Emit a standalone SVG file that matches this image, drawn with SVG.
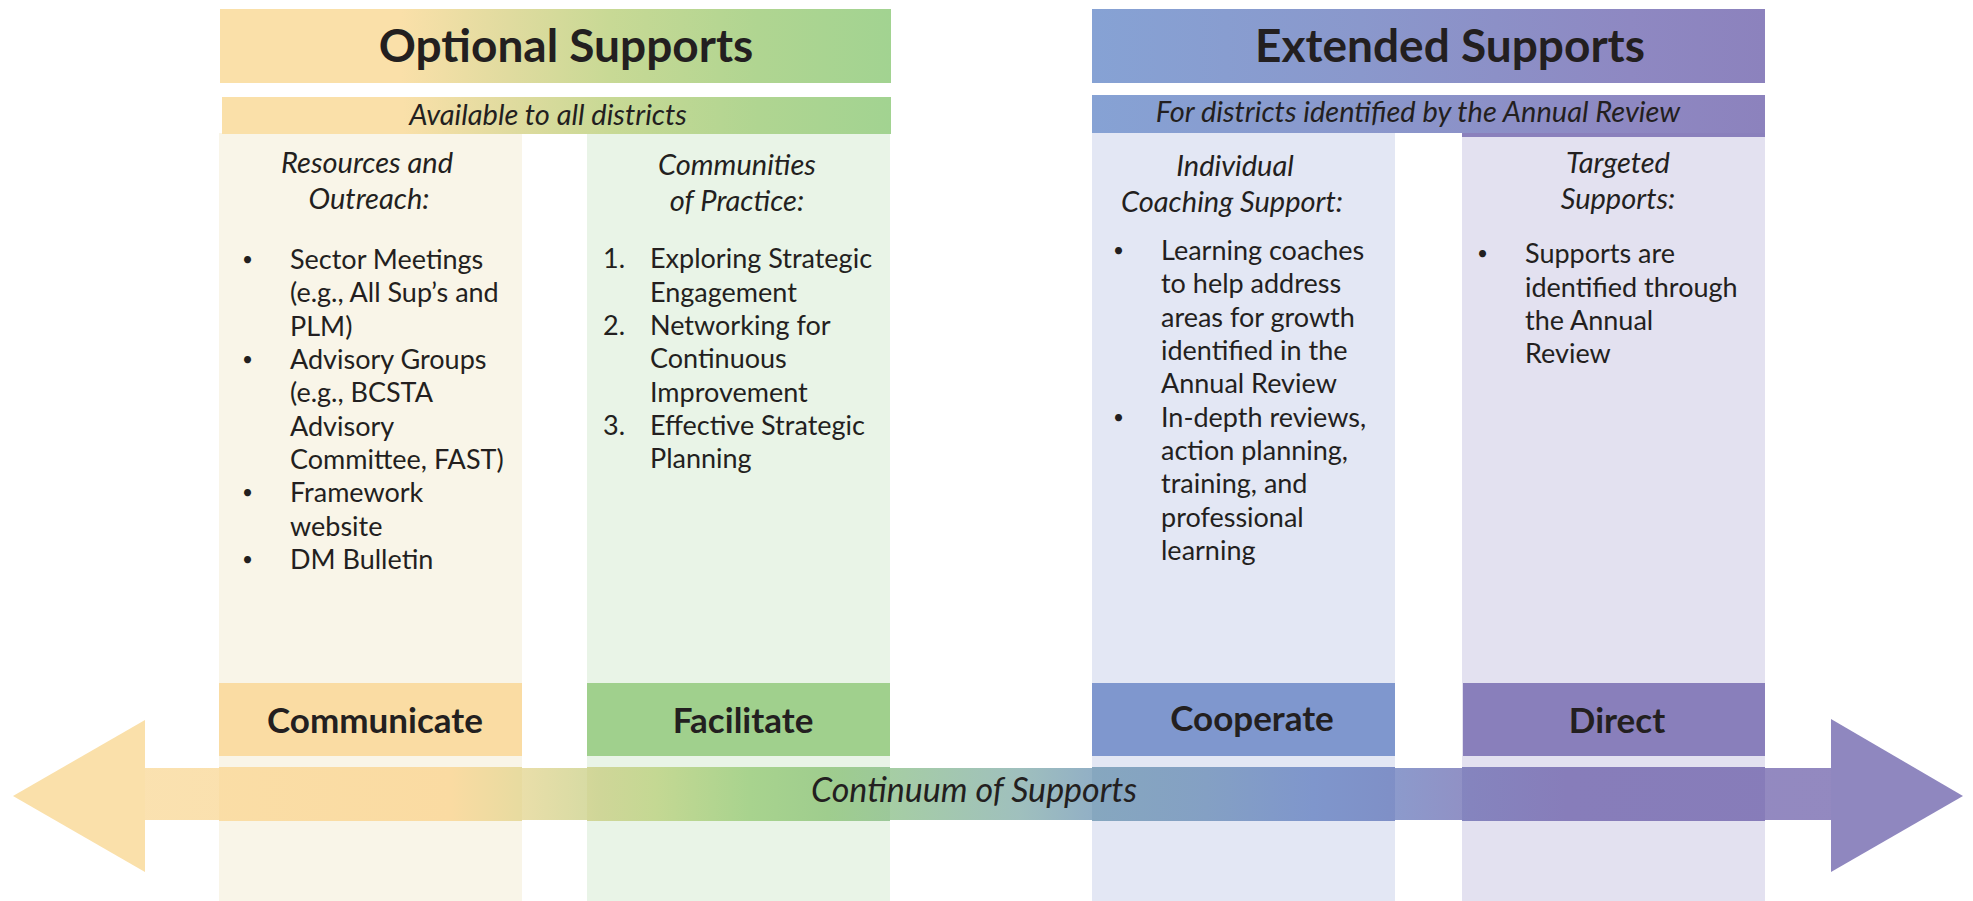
<svg xmlns="http://www.w3.org/2000/svg" width="1973" height="901" viewBox="0 0 1973 901">
<style>
text{font-family:Lato,"Open Sans","Liberation Sans",sans-serif;fill:#231f20}
.title{font-size:46px;font-weight:700;text-anchor:middle}
.sub{font-size:29px;font-style:italic;text-anchor:middle}
.head{font-size:29px;font-style:italic;text-anchor:middle}
.body{font-size:27px}
.bul{font-size:19px}
.lbl{font-size:35px;font-weight:700;text-anchor:middle}
.cont{font-size:34px;font-style:italic;text-anchor:middle}
</style>
<defs>
<linearGradient id="gOpt" x1="0" y1="0" x2="1" y2="0">
<stop offset="0" stop-color="#fae0a9"/>
<stop offset="0.27" stop-color="#fae0a9"/>
<stop offset="0.43" stop-color="#e0db9f"/>
<stop offset="0.58" stop-color="#c8d995"/>
<stop offset="0.8" stop-color="#b0d591"/>
<stop offset="1" stop-color="#a2d391"/>
</linearGradient>
<linearGradient id="gExt" x1="0" y1="0" x2="1" y2="0">
<stop offset="0" stop-color="#86a2d4"/>
<stop offset="0.4" stop-color="#8a98cc"/>
<stop offset="0.8" stop-color="#8e88c2"/>
<stop offset="1" stop-color="#8c82bd"/>
</linearGradient>
<linearGradient id="gShaft" gradientUnits="userSpaceOnUse" x1="145" y1="0" x2="1831" y2="0">
<stop offset="0" stop-color="#fadea7"/>
<stop offset="0.181" stop-color="#fadba2"/>
<stop offset="0.222" stop-color="#e8dba0"/>
<stop offset="0.270" stop-color="#cfd698"/>
<stop offset="0.303" stop-color="#c4d893"/>
<stop offset="0.359" stop-color="#a8d38e"/>
<stop offset="0.405" stop-color="#9fcd8e"/>
<stop offset="0.442" stop-color="#9cc89a"/>
<stop offset="0.518" stop-color="#95b9b6"/>
<stop offset="0.562" stop-color="#86a7bf"/>
<stop offset="0.630" stop-color="#84a0c4"/>
<stop offset="0.693" stop-color="#7f96cc"/>
<stop offset="0.738" stop-color="#7f90c7"/>
<stop offset="0.786" stop-color="#8584be"/>
<stop offset="0.843" stop-color="#877dba"/>
<stop offset="1" stop-color="#877cb9"/>
</linearGradient>
</defs>
<rect width="1973" height="901" fill="#ffffff"/>

<g id="col-resources">
<rect x="219" y="133" width="303" height="768" fill="#f9f5e8"/>
<text class="head" x="367" y="173">Resources and</text>
<text class="head" x="369" y="209">Outreach:</text>
<text class="bul"><tspan x="242" y="266">•</tspan><tspan x="242" y="366">•</tspan><tspan x="242" y="499">•</tspan><tspan x="242" y="566">•</tspan></text>
<text class="body"><tspan x="290" y="269">Sector Meetings</tspan><tspan x="290" y="302">(e.g., All Sup’s and</tspan><tspan x="290" y="336">PLM)</tspan><tspan x="290" y="369">Advisory Groups</tspan><tspan x="290" y="402">(e.g., BCSTA</tspan><tspan x="290" y="436">Advisory</tspan><tspan x="290" y="469">Committee, FAST)</tspan><tspan x="290" y="502">Framework</tspan><tspan x="290" y="536">website</tspan><tspan x="290" y="569">DM Bulletin</tspan></text>
</g>

<g id="col-communities">
<rect x="587" y="133" width="303" height="768" fill="#e9f4e7"/>
<text class="head" x="737" y="175">Communities</text>
<text class="head" x="737" y="211">of Practice:</text>
<text class="body"><tspan x="603" y="268">1.</tspan><tspan x="603" y="335">2.</tspan><tspan x="603" y="435">3.</tspan></text>
<text class="body"><tspan x="650" y="268">Exploring Strategic</tspan><tspan x="650" y="302">Engagement</tspan><tspan x="650" y="335">Networking for</tspan><tspan x="650" y="368">Continuous</tspan><tspan x="650" y="402">Improvement</tspan><tspan x="650" y="435">Effective Strategic</tspan><tspan x="650" y="468">Planning</tspan></text>
</g>

<g id="col-individual">
<rect x="1092" y="133" width="303" height="768" fill="#e3e7f4"/>
<text class="head" x="1235" y="176">Individual</text>
<text class="head" x="1232" y="212">Coaching Support:</text>
<text class="bul"><tspan x="1113" y="257">•</tspan><tspan x="1113" y="424">•</tspan></text>
<text class="body"><tspan x="1161" y="260">Learning coaches</tspan><tspan x="1161" y="293">to help address</tspan><tspan x="1161" y="327">areas for growth</tspan><tspan x="1161" y="360">identified in the</tspan><tspan x="1161" y="393">Annual Review</tspan><tspan x="1161" y="427">In-depth reviews,</tspan><tspan x="1161" y="460">action planning,</tspan><tspan x="1161" y="493">training, and</tspan><tspan x="1161" y="527">professional</tspan><tspan x="1161" y="560">learning</tspan></text>
</g>

<g id="col-targeted">
<rect x="1462" y="133" width="303" height="768" fill="#e3e1f0"/>
<rect x="1462" y="133" width="303" height="4" fill="#8a80bc"/>
<text class="head" x="1618" y="173">Targeted</text>
<text class="head" x="1618" y="209">Supports:</text>
<text class="bul"><tspan x="1477" y="260">•</tspan></text>
<text class="body"><tspan x="1525" y="263">Supports are</tspan><tspan x="1525" y="297">identified through</tspan><tspan x="1525" y="330">the Annual</tspan><tspan x="1525" y="363">Review</tspan></text>
</g>

<g id="optional-header">
<rect x="220" y="9" width="671" height="74" fill="url(#gOpt)"/>
<text class="title" x="566" y="62">Optional Supports</text>
</g>
<g id="optional-sub">
<rect x="222" y="97" width="669" height="37" fill="url(#gOpt)"/>
<text class="sub" x="548" y="125">Available to all districts</text>
</g>

<g id="extended-header">
<rect x="1092" y="9" width="673" height="74" fill="url(#gExt)"/>
<text class="title" x="1450" y="62">Extended Supports</text>
</g>
<g id="extended-sub">
<rect x="1092" y="95" width="673" height="38" fill="url(#gExt)"/>
<text class="sub" x="1418" y="122">For districts identified by the Annual Review</text>
</g>

<g id="box-communicate">
<rect x="219" y="683" width="303" height="73" fill="#fadca3"/>
<text class="lbl" x="375" y="733">Communicate</text>
</g>
<g id="box-facilitate">
<rect x="587" y="683" width="303" height="73" fill="#a0d08d"/>
<text class="lbl" x="743" y="733">Facilitate</text>
</g>
<g id="box-cooperate">
<rect x="1092" y="683" width="303" height="73" fill="#7f97ce"/>
<text class="lbl" x="1252" y="731">Cooperate</text>
</g>
<g id="box-direct">
<rect x="1463" y="683" width="302" height="73" fill="#897fbb"/>
<text class="lbl" x="1617" y="733">Direct</text>
</g>

<g id="connectors">
<polygon points="145,720 13,796 145,872" fill="#fae0aa"/>
<polygon points="1831,719 1963,796 1831,872" fill="#8f87bf"/>
<rect x="145" y="768" width="1686" height="52" fill="url(#gShaft)" fill-opacity="0.9"/>
<rect x="219" y="767" width="303" height="54" fill="url(#gShaft)"/>
<rect x="587" y="767" width="303" height="54" fill="url(#gShaft)"/>
<rect x="1092" y="767" width="303" height="54" fill="url(#gShaft)"/>
<rect x="1462" y="767" width="303" height="54" fill="url(#gShaft)"/>
<text class="cont" x="974" y="802">Continuum of Supports</text>
</g>
</svg>
